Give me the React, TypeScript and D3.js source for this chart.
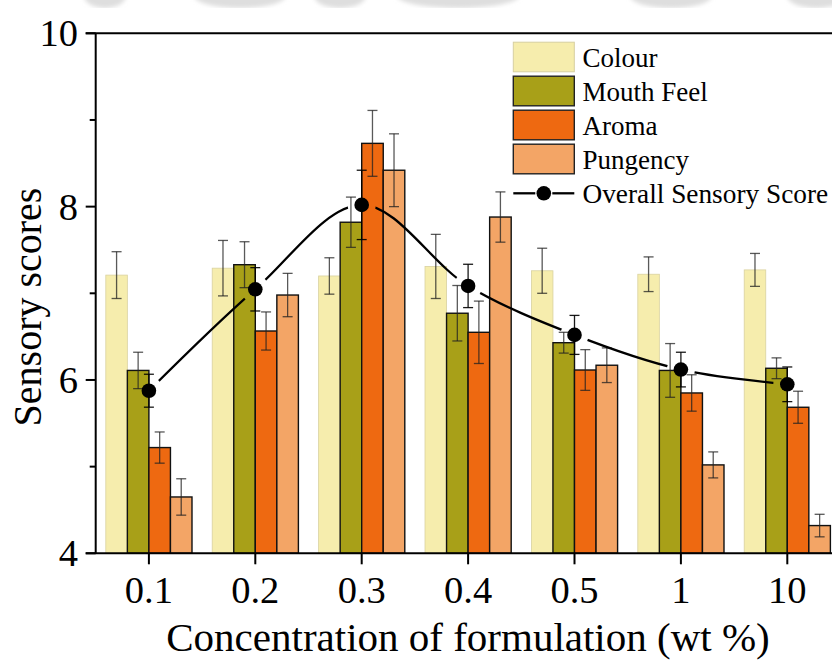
import React from "react";
import * as d3 from "d3";

// Concentrations (wt %) on the x axis
const categories = ["0.1", "0.2", "0.3", "0.4", "0.5", "1", "10"];

// Mean panel scores and their standard deviations per attribute
const colour = [7.21, 7.29, 7.2, 7.31, 7.26, 7.22, 7.27];
const colourErr = [0.27, 0.32, 0.21, 0.37, 0.26, 0.2, 0.19];
const mouthFeel = [6.11, 7.33, 7.82, 6.77, 6.43, 6.11, 6.135];
const mouthFeelErr = [0.21, 0.265, 0.29, 0.32, 0.12, 0.31, 0.12];
const aroma = [5.22, 6.565, 8.73, 6.55, 6.115, 5.85, 5.685];
const aromaErr = [0.18, 0.22, 0.38, 0.36, 0.235, 0.21, 0.185];
const pungency = [4.65, 6.98, 8.42, 7.88, 6.17, 5.02, 4.32];
const pungencyErr = [0.21, 0.25, 0.42, 0.29, 0.2, 0.15, 0.13];
const overall = [5.876, 7.046, 8.02, 7.085, 6.52, 6.12, 5.95];
const overallErr = [0.19, 0.25, 0.4, 0.25, 0.225, 0.2, 0.2];

const yMajorTicks = [4, 6, 8, 10];
const yMinorTicks = [5, 7, 9];

const seriesNames = ["Colour", "Mouth Feel", "Aroma", "Pungency"];
const lineName = "Overall Sensory Score";

const series = [
  { name: seriesNames[0], values: colour, err: colourErr, fill: "#F6EDAD", stroke: "#D9D2A0", sw: 0.8 },
  { name: seriesNames[1], values: mouthFeel, err: mouthFeelErr, fill: "#A8A018", stroke: "#111", sw: 1.4 },
  { name: seriesNames[2], values: aroma, err: aromaErr, fill: "#EE6911", stroke: "#111", sw: 1.4 },
  { name: seriesNames[3], values: pungency, err: pungencyErr, fill: "#F3A566", stroke: "#111", sw: 1.4 },
];

const W = 832;
const H = 661;
const left = 95.7;
const right = 840.5;
const top = 33.3;
const bottom = 553.3;
const FONT = '"Liberation Serif", "Times New Roman", Times, "DejaVu Serif", serif';

export default function App() {
  const x = d3.scaleBand<string>().domain(categories).range([left, right]).paddingInner(0.19).paddingOuter(0.095);
  const inner = d3.scaleBand<string>().domain(seriesNames).range([0, x.bandwidth()]);
  const y = d3.scaleLinear().domain([4, 10]).range([bottom, top]);
  const cx = (c: string) => (x(c) as number) + x.bandwidth() / 2;

  const pts: [number, number][] = categories.map((c, i) => [cx(c), y(overall[i])]);
  const linePath = d3.line().curve(d3.curveCatmullRom.alpha(0.5))(pts) || "";

  const capW = 5;
  const errBar = (xc: number, v: number, e: number, key: string, color: string, op: number) => (
    <g key={key} stroke={color} strokeOpacity={op} strokeWidth={1.3}>
      <line x1={xc} x2={xc} y1={y(v + e)} y2={y(v - e)} />
      <line x1={xc - capW} x2={xc + capW} y1={y(v + e)} y2={y(v + e)} />
      <line x1={xc - capW} x2={xc + capW} y1={y(v - e)} y2={y(v - e)} />
    </g>
  );

  // faint band across the top edge
  const haze: [number, number][] = [
    [90, 120], [200, 280], [320, 360], [403, 513], [636, 706], [793, 840],
  ];

  const legendX = 513.3;
  const legendRows = [57, 91, 125, 159];
  const legendLineY = 193.3;

  return (
    <svg width={W} height={H} style={{ position: "absolute", left: 0, top: 0, background: "#fff", fontFamily: FONT }}>
      <defs>
        <mask id="lineGaps">
          <rect x={0} y={0} width={W} height={H} fill="#fff" />
          {pts.map((p, i) => (
            <circle key={i} cx={p[0]} cy={p[1]} r={14} fill="#000" />
          ))}
        </mask>
        <filter id="soft">
          <feGaussianBlur stdDeviation={2} />
        </filter>
      </defs>

      <g filter="url(#soft)">
        {haze.map(([a, b], i) => (
          <ellipse key={i} cx={(a + b) / 2} cy={-4} rx={(b - a) / 2 + 6} ry={12} fill="#DEDEDE" />
        ))}
      </g>
      <rect x={0} y={8} width={W} height={12} fill="#fff" />

      {/* bars */}
      {series.map((s) =>
        categories.map((c, i) => {
          const bx = (x(c) as number) + (inner(s.name) as number);
          return (
            <rect
              key={s.name + c}
              x={bx}
              y={y(s.values[i])}
              width={inner.bandwidth()}
              height={bottom - y(s.values[i])}
              fill={s.fill}
              stroke={s.stroke}
              strokeWidth={s.sw}
            />
          );
        })
      )}

      {/* bar error bars */}
      {series.map((s) =>
        categories.map((c, i) => {
          const bx = (x(c) as number) + (inner(s.name) as number) + inner.bandwidth() / 2;
          return errBar(bx, s.values[i], s.err[i], "e" + s.name + c, "#222", 0.75);
        })
      )}

      {/* overall score line */}
      <path d={linePath} fill="none" stroke="#000" strokeWidth={2.3} mask="url(#lineGaps)" />
      {categories.map((c, i) => errBar(cx(c), overall[i], overallErr[i], "o" + c, "#000", 0.9))}
      {pts.map((p, i) => (
        <circle key={"p" + i} cx={p[0]} cy={p[1]} r={7.3} fill="#000" />
      ))}

      {/* axes frame */}
      <g stroke="#000" strokeWidth={2}>
        <line x1={left} x2={left} y1={top} y2={bottom} />
        <line x1={left - 10} x2={W + 10} y1={bottom} y2={bottom} />
        <line x1={left - 10} x2={W + 10} y1={top} y2={top} />
        {yMajorTicks.map((t) => (
          <line key={"ym" + t} x1={left - 10} x2={left} y1={y(t)} y2={y(t)} />
        ))}
        {yMinorTicks.map((t) => (
          <line key={"yn" + t} x1={left - 6} x2={left} y1={y(t)} y2={y(t)} />
        ))}
        {categories.map((c) => (
          <line key={"xt" + c} x1={cx(c)} x2={cx(c)} y1={bottom} y2={bottom + 11} />
        ))}
      </g>

      {/* tick labels */}
      {yMajorTicks.map((t) => (
        <text key={"yl" + t} x={78} y={y(t) + 13} fontSize={38.5} textAnchor="end" fill="#000">
          {t}
        </text>
      ))}
      {categories.map((c) => (
        <text key={"xl" + c} x={cx(c)} y={602.5} fontSize={38.5} textAnchor="middle" fill="#000">
          {c}
        </text>
      ))}

      {/* axis titles */}
      <text x={468} y={651} fontSize={41} textAnchor="middle" fill="#000">
        Concentration of formulation (wt %)
      </text>
      <text transform={`translate(41,307) rotate(-90)`} fontSize={40} textAnchor="middle" fill="#000">
        Sensory scores
      </text>

      {/* legend */}
      {series.map((s, i) => (
        <g key={"lg" + s.name}>
          <rect
            x={legendX}
            y={legendRows[i] - 14.8}
            width={61}
            height={29.6}
            fill={s.fill}
            stroke={i === 0 ? "#D6CFA0" : "#222"}
            strokeWidth={i === 0 ? 1 : 1.4}
          />
          <text x={582.5} y={legendRows[i] + 10} fontSize={27} fill="#000">
            {s.name}
          </text>
        </g>
      ))}
      <g>
        <line x1={legendX} x2={legendX + 22} y1={legendLineY} y2={legendLineY} stroke="#000" strokeWidth={2.3} />
        <line x1={legendX + 39} x2={legendX + 61} y1={legendLineY} y2={legendLineY} stroke="#000" strokeWidth={2.3} />
        <circle cx={legendX + 30.5} cy={legendLineY} r={7.3} fill="#000" />
        <text x={582.5} y={legendLineY + 10} fontSize={27.3} fill="#000">
          {lineName}
        </text>
      </g>
    </svg>
  );
}
